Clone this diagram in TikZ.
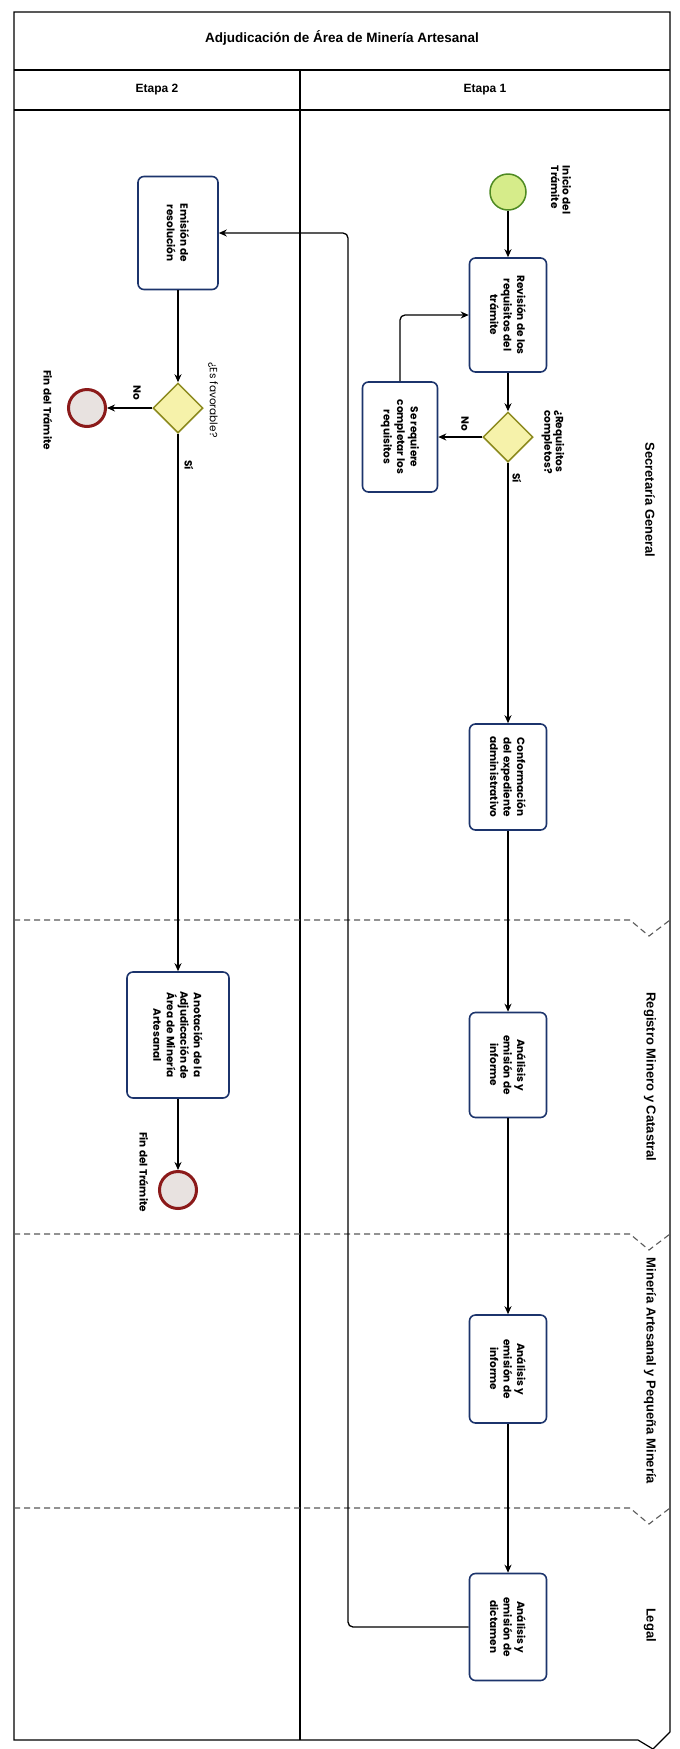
\documentclass[tikz,border=0pt]{standalone}
\usepackage{fontspec}
\setmainfont{Liberation Sans}
\newfontfamily\geo{Poppins}
\usepackage{xcolor}
\usepackage{tikz}
\usetikzlibrary{shapes.geometric,arrows.meta}
\definecolor{taskblue}{RGB}{28,52,108}
\definecolor{gateline}{RGB}{140,138,30}
\definecolor{gatefill}{RGB}{246,242,170}
\definecolor{startline}{RGB}{78,138,34}
\definecolor{startfill}{RGB}{214,236,138}
\definecolor{endline}{RGB}{139,26,26}
\definecolor{endfill}{RGB}{232,226,224}

\begin{document}
\begin{tikzpicture}[x=1pt,y=-1pt,
    task/.style={draw=taskblue,fill=white,line width=1.6pt,rounded corners=6pt,rotate=-90,
      minimum width=108pt,minimum height=77pt,inner sep=2pt,align=center,
      font=\geo\bfseries\fontsize{10.5}{13.5}\selectfont},
    gate/.style={diamond,draw=gateline,fill=gatefill,line width=1.5pt,minimum size=50pt,inner sep=0pt},
    startev/.style={circle,draw=startline,fill=startfill,line width=1.5pt,minimum size=36pt,inner sep=0pt},
    endev/.style={circle,draw=endline,fill=endfill,line width=3pt,minimum size=37pt,inner sep=0pt},
    lbl/.style={rotate=-90,align=left,inner sep=1pt,font=\geo\bfseries\fontsize{10.5}{11.5}\selectfont},
    lane/.style={rotate=-90,font=\bfseries\fontsize{13}{15}\selectfont},
    flow/.style={-{Stealth[length=8pt,width=7pt]},line width=1.3pt,rounded corners=5pt},
    lanesep/.style={draw=black!65,line width=1.1pt,dash pattern=on 6pt off 4pt}]

  \useasboundingbox (0,0) rectangle (680,1749);
  \fill[white] (0,0) rectangle (680,1749);

  \draw[line width=1.2pt] (670,1732) -- (670,12) -- (14,12) -- (14,1740) -- (638,1740) -- (653,1749) -- (670,1732);
  \draw[line width=1.2pt] (14,70) -- (670,70);
  \draw[line width=1.2pt] (14,110) -- (670,110);
  \draw[line width=1.2pt] (300,70) -- (300,1740);

  \draw[lanesep] (14,920) -- (630,920) -- (649,936) -- (670,920);
  \draw[lanesep] (14,1234) -- (630,1234) -- (649,1250) -- (670,1234);
  \draw[lanesep] (14,1508) -- (630,1508) -- (649,1524) -- (670,1508);

  \node[font=\bfseries\fontsize{13.5}{15}\selectfont] (titulo) at (342,38) {Adjudicación de Área de Minería Artesanal};
  \node[font=\bfseries\fontsize{12}{14}\selectfont] (etapados) at (157,90) {Etapa 2};
  \node[font=\bfseries\fontsize{12}{14}\selectfont] (etapauno) at (485,90) {Etapa 1};

  \node[lane] (secretaria) at (650,500) {Secretaría General};
  \node[lane] (registrolane) at (650,1077) {Registro Minero y Catastral};
  \node[lane] (minerialane) at (650,1371) {Minería Artesanal y Pequeña Minería};
  \node[lane] (legal) at (650,1625) {Legal};

  \node[startev] (inicio) at (508,192) {};
  \node[lbl] (tinicio) at (561,190) {Inicio del\\Trámite};
  \node[task,minimum width=114pt] (revision) at (508,315) {Revisión de los\\requisitos del\\trámite};
  \node[gate] (gwuno) at (508,437) {};
  \node[lbl] (tgwuno) at (553,442) {¿Requisitos\\completos?};
  \node[task,minimum width=110pt,minimum height=75pt] (completar) at (400,437) {Se requiere\\completar los\\requisitos};
  \node[lbl] (tnouno) at (465,424) {No};
  \node[lbl] (tsiuno) at (517,478) {Sí};
  \node[task,minimum width=106pt] (expediente) at (508,777) {Conformación\\del expediente\\administrativo};
  \node[task,minimum width=105pt] (informereg) at (508,1065) {Análisis y\\emisión de\\informe};
  \node[task] (informemin) at (508,1369) {Análisis y\\emisión de\\informe};
  \node[task,minimum width=107pt] (dictamen) at (508,1627) {Análisis y\\emisión de\\dictamen};

  \node[task,minimum width=113pt,minimum height=80pt] (emision) at (178,233) {Emisión de\\resolución};
  \node[gate] (gwdos) at (178,408) {};
  \node[lbl,font=\geo\fontsize{10.5}{11.5}\selectfont] (tgwdos) at (213,400) {¿Es favorable?};
  \node[endev] (finuno) at (87,408) {};
  \node[lbl] (tfinuno) at (48,410) {Fin del Trámite};
  \node[lbl] (tnodos) at (137,393) {No};
  \node[lbl] (tsidos) at (189,465) {Sí};
  \node[task,minimum width=126pt,minimum height=102pt] (anotacion) at (178,1035) {Anotación de la\\Adjudicación de\\Área de Minería\\Artesanal};
  \node[endev] (findos) at (178,1190) {};
  \node[lbl] (tfindos) at (144,1172) {Fin del Trámite};

  \coordinate (vuelta) at (348,233);

  \draw[flow] (inicio) -- (revision);
  \draw[flow] (revision) -- (gwuno);
  \draw[flow] (gwuno) -- (completar);
  \draw[flow] (completar) |- (revision);
  \draw[flow] (gwuno) -- (expediente);
  \draw[flow] (expediente) -- (informereg);
  \draw[flow] (informereg) -- (informemin);
  \draw[flow] (informemin) -- (dictamen);
  \draw[flow] (dictamen) -| (vuelta) -- (emision);
  \draw[flow] (emision) -- (gwdos);
  \draw[flow] (gwdos) -- (finuno);
  \draw[flow] (gwdos) -- (anotacion);
  \draw[flow] (anotacion) -- (findos);
\end{tikzpicture}
\end{document}
